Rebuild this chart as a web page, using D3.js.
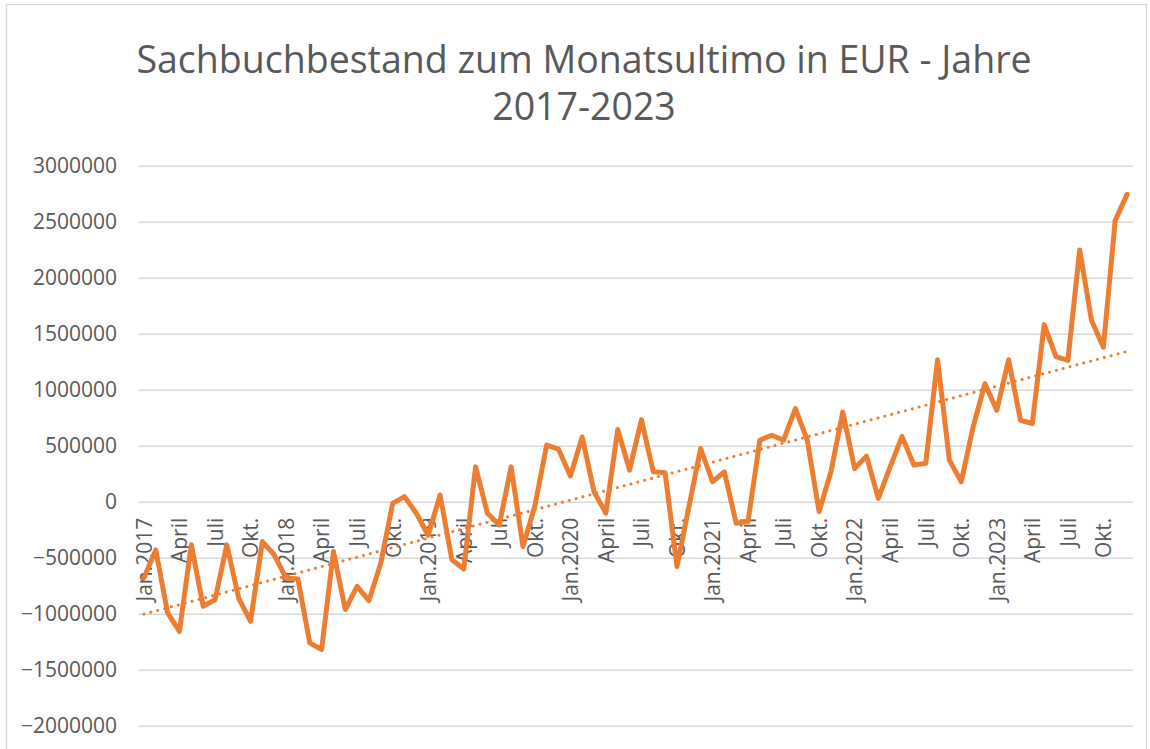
<!DOCTYPE html>
<html>
<head>
<meta charset="utf-8">
<script src="https://cdn.jsdelivr.net/npm/d3@7"></script>
<style>
  body { margin: 0; background: #fff; }
  svg text { font-family: "Open Sans", sans-serif; fill: #595959; }
</style>
</head>
<body>
<div id="chart"></div>
<script>
// Data
var years = [2017, 2018, 2019, 2020, 2021, 2022, 2023];
var quarterLabels = ["Jan.", "April", "Juli", "Okt."];
var titleLines = ["Sachbuchbestand zum Monatsultimo in EUR - Jahre", "2017-2023"];
var yTicks = [-2000000, -1500000, -1000000, -500000, 0, 500000, 1000000, 1500000, 2000000, 2500000, 3000000];

var values2017 = [-680000, -430000, -993000, -1157000, -385000, -934000, -875000, -385000, -860000, -1068000, -356000, -474000];
var values2018 = [-682000, -690000, -1260000, -1320000, -445000, -963000, -756000, -883000, -548000, -15000, 45000, -103000];
var values2019 = [-300000, 60000, -519000, -601000, 311000, -103000, -207000, 311000, -400000, -40000, 505000, 469000];
var values2020 = [229000, 578000, 89000, -103000, 644000, 282000, 733000, 267000, 258000, -578000, -50000, 475000];
var values2021 = [178000, 267000, -192000, -178000, 549000, 593000, 549000, 831000, 549000, -89000, 267000, 801000];
var values2022 = [297000, 407000, 30000, 311000, 583000, 327000, 342000, 1267000, 371000, 178000, 667000, 1053000];
var values2023 = [816000, 1267000, 727000, 698000, 1581000, 1296000, 1261000, 2248000, 1617000, 1379000, 2512000, 2744000];

var values = [].concat(values2017, values2018, values2019, values2020, values2021, values2022, values2023);

// month categories, label every third month
var categories = [];
years.forEach(function(year) {
  for (var m = 0; m < 12; m++) {
    var label = "";
    if (m % 3 === 0) {
      label = m === 0 ? quarterLabels[0] + year : quarterLabels[m / 3];
    }
    categories.push({ index: categories.length, label: label });
  }
});

var W = 1150, H = 749;
var plot = { left: 138, right: 1133, top: 165.7, bottom: 725.7 };
var orange = "#ED7D31";

var svg = d3.select("#chart").append("svg")
    .attr("width", W)
    .attr("height", H);

// chart area border
svg.append("rect")
    .attr("x", 6.5)
    .attr("y", 4.5)
    .attr("width", 1140)
    .attr("height", 760)
    .attr("fill", "none")
    .attr("stroke", "#d9d9d9")
    .attr("stroke-width", 1.3);

// title
svg.append("g")
    .selectAll("text")
    .data(titleLines)
    .enter()
    .append("text")
    .attr("x", 584)
    .attr("y", function(d, i) { return 73 + i * 47; })
    .attr("text-anchor", "middle")
    .attr("font-size", 37.5)
    .text(function(d) { return d; });

var x = d3.scalePoint()
    .domain(categories.map(function(d) { return d.index; }))
    .range([plot.left, plot.right])
    .padding(0.5);

var y = d3.scaleLinear()
    .domain([-2000000, 3000000])
    .range([plot.bottom, plot.top]);

// y axis + gridlines
var yAxis = d3.axisLeft(y)
    .tickValues(yTicks)
    .tickFormat(d3.format("d"))
    .tickSize(-(plot.right - plot.left))
    .tickPadding(21);

var yg = svg.append("g")
    .attr("transform", "translate(" + plot.left + ",0)")
    .call(yAxis);
yg.select(".domain").remove();
yg.selectAll("line")
    .attr("stroke", "#d9d9d9")
    .attr("stroke-width", 1.5);
yg.selectAll("text")
    .attr("font-size", 21)
    .attr("font-family", "'Open Sans', sans-serif")
    .style("fill", "#595959");

// x axis labels, crossing at 0
var xAxis = d3.axisBottom(x)
    .tickValues(categories.filter(function(d) { return d.label !== ""; }).map(function(d) { return d.index; }))
    .tickFormat(function(i) { return categories[i].label; })
    .tickSize(0);

var xg = svg.append("g")
    .attr("transform", "translate(0," + y(0) + ")")
    .call(xAxis);
xg.select(".domain").remove();
xg.selectAll("text")
    .attr("transform", "rotate(-90)")
    .attr("text-anchor", "end")
    .attr("x", -16)
    .attr("y", 0)
    .attr("dy", "0.35em")
    .attr("font-size", 21)
    .attr("font-family", "'Open Sans', sans-serif")
    .style("fill", "#595959");

// linear trendline (least squares)
var n = values.length;
var mx = d3.mean(values, function(d, i) { return i; });
var my = d3.mean(values);
var sxy = d3.sum(values, function(d, i) { return (i - mx) * (d - my); });
var sxx = d3.sum(values, function(d, i) { return (i - mx) * (i - mx); });
var slope = sxy / sxx;
var intercept = my - slope * mx;

svg.append("line")
    .attr("x1", x(0))
    .attr("y1", y(intercept))
    .attr("x2", x(n - 1))
    .attr("y2", y(intercept + slope * (n - 1)))
    .attr("stroke", orange)
    .attr("stroke-width", 3)
    .attr("stroke-linecap", "round")
    .attr("stroke-dasharray", "0.1,7");

// data line
var line = d3.line()
    .x(function(d, i) { return x(i); })
    .y(function(d) { return y(d); });

svg.append("path")
    .datum(values)
    .attr("d", line)
    .attr("fill", "none")
    .attr("stroke", orange)
    .attr("stroke-width", 5)
    .attr("stroke-linejoin", "round")
    .attr("stroke-linecap", "round");
</script>
</body>
</html>
